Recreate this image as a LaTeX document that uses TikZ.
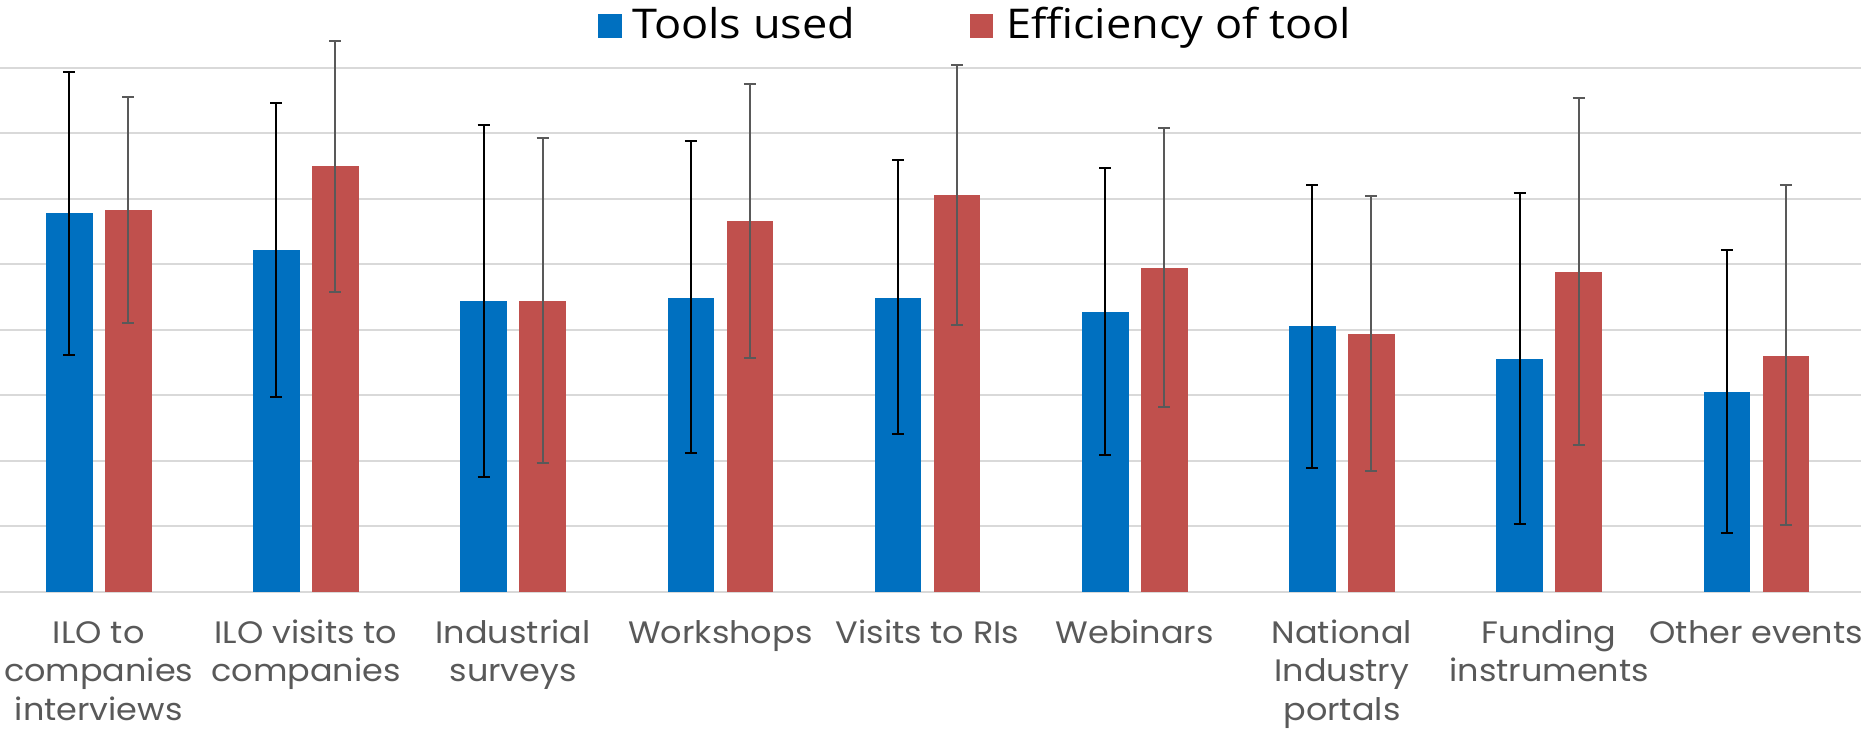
\documentclass[tikz,border=0pt]{standalone}
\usepackage{fontspec}
\setmainfont{Poppins}
\newfontfamily\labfont[FakeStretch=1.08]{Poppins}
\newfontfamily\legfont[FakeStretch=1.1]{Open Sans}
\definecolor{barblue}{HTML}{0070C0}
\definecolor{barred}{HTML}{C0504D}
\definecolor{gridgray}{HTML}{D9D9D9}
\definecolor{labgray}{HTML}{595959}
\definecolor{errgray}{HTML}{595959}
\tikzset{
  gridline/.style={draw=gridgray,line width=2pt},
  bluebar/.style={fill=barblue},
  redbar/.style={fill=barred},
  errblue/.style={draw=black,line width=2pt},
  errred/.style={draw=errgray,line width=2pt},
  catlabel/.style={anchor=north,inner sep=0pt,align=center,text=labgray,font=\labfont\fontsize{31}{38.4}\selectfont},
  legtext/.style={anchor=base west,inner sep=0pt,text=black,font=\legfont\fontsize{41}{48}\selectfont}
}
\begin{document}
\begin{tikzpicture}[x=1pt,y=-1pt]
\useasboundingbox (0,0) rectangle (1868,728);
\clip (0,0) rectangle (1868,728);
% gridlines
\foreach \k in {0,...,8}{
  \draw[gridline] (0,{67.7+65.5*\k}) -- (1861,{67.7+65.5*\k});
}
% bars and error bars
\foreach \i/\bt/\bu/\bl/\rt/\ru/\rl in {
  0/213.3/71.7/354.7/210/97/322.7,
  1/250/103.3/396.7/166/40.7/292,
  2/301/125.3/476.7/301/138.3/463,
  3/297.7/141/453.3/221/84/357.7,
  4/297.7/160/434.3/195.3/65.3/325,
  5/312/168.3/455.3/268.3/128.3/407.3,
  6/326.3/184.7/467.7/333.7/196/471,
  7/359.3/193.3/524.3/272/98/445.3,
  8/392/250.3/532.7/355.7/185.3/525}{
  \pgfmathsetmacro\xb{46+207.2*\i}
  \pgfmathsetmacro\xr{105+207.2*\i}
  \pgfmathsetmacro\cb{\xb+23.25}
  \pgfmathsetmacro\cr{\xr+23.25}
  \fill[bluebar] (\xb,591.7) rectangle ({\xb+46.5},\bt);
  \fill[redbar] (\xr,591.7) rectangle ({\xr+46.5},\rt);
  \draw[errblue] (\cb,\bu) -- (\cb,\bl);
  \draw[errblue] ({\cb-6},\bu) -- ({\cb+6},\bu);
  \draw[errblue] ({\cb-6},\bl) -- ({\cb+6},\bl);
  \draw[errred] (\cr,\ru) -- (\cr,\rl);
  \draw[errred] ({\cr-6},\ru) -- ({\cr+6},\ru);
  \draw[errred] ({\cr-6},\rl) -- ({\cr+6},\rl);
}
% category labels (top = first baseline minus strut height 0.7*38.4)
\foreach \i/\t in {
  0/{ILO to\\companies\\interviews},
  1/{ILO visits to\\companies},
  2/{Industrial\\surveys},
  3/{Workshops},
  4/{Visits to RIs},
  5/{Webinars},
  6/{National\\Industry\\portals},
  7/{Funding\\instruments},
  8/{Other events}}{
  \node[catlabel] (lab\i) at ({98.75+207.2*\i},{643.3-26.88}) {\strut\t};
}
% legend
\fill[bluebar] (598,14) rectangle (622,37.7);
\node[legtext] (legA) at (632,38.3) {Tools used};
\fill[redbar] (969.6,14) rectangle (993,37.7);
\node[legtext] (legB) at (1006,38.3) {Efficiency of tool};
\end{tikzpicture}
\end{document}
